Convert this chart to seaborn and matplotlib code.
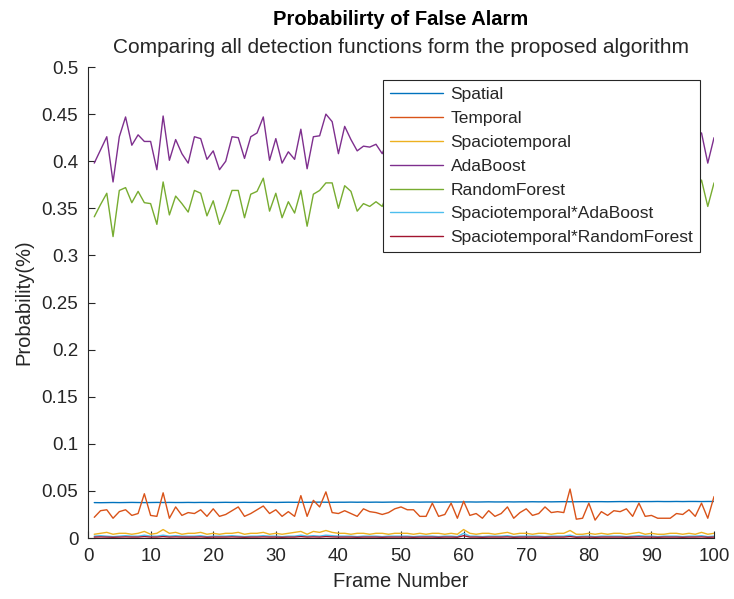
import numpy as np
import pandas as pd
import matplotlib
matplotlib.use("Agg")
import matplotlib.pyplot as plt
from matplotlib.ticker import FuncFormatter, MultipleLocator
import seaborn as sns

frames = list(range(1, 101))

spatial = [0.0376,0.0375,0.0376,0.0377,0.0376,0.0377,0.0378,0.0377,0.0376,0.0377,
           0.0378,0.0377,0.0378,0.0377,0.0377,0.0378,0.0377,0.0378,0.0378,0.0377,
           0.0378,0.0379,0.0378,0.0378,0.0379,0.0378,0.0379,0.0380,0.0379,0.0378,
           0.0379,0.0380,0.0379,0.0380,0.0379,0.0380,0.0381,0.0380,0.0379,0.0380,
           0.0380,0.0381,0.0380,0.0381,0.0380,0.0381,0.0380,0.0381,0.0382,0.0381,
           0.0381,0.0382,0.0381,0.0382,0.0382,0.0381,0.0382,0.0383,0.0382,0.0383,
           0.0383,0.0382,0.0383,0.0384,0.0383,0.0383,0.0384,0.0383,0.0384,0.0384,
           0.0385,0.0384,0.0385,0.0384,0.0385,0.0386,0.0385,0.0385,0.0386,0.0385,
           0.0386,0.0386,0.0385,0.0386,0.0387,0.0386,0.0387,0.0386,0.0387,0.0387,
           0.0388,0.0387,0.0387,0.0388,0.0387,0.0388,0.0388,0.0387,0.0388,0.0388]

temporal = [0.022,0.029,0.030,0.021,0.028,0.030,0.024,0.026,0.047,0.024,
            0.023,0.048,0.021,0.033,0.024,0.027,0.026,0.030,0.023,0.031,
            0.023,0.025,0.029,0.033,0.023,0.026,0.030,0.034,0.026,0.030,
            0.023,0.028,0.023,0.045,0.023,0.040,0.033,0.049,0.027,0.026,
            0.029,0.026,0.023,0.031,0.028,0.027,0.025,0.027,0.031,0.033,
            0.030,0.030,0.023,0.023,0.037,0.023,0.025,0.037,0.021,0.039,
            0.024,0.026,0.021,0.029,0.023,0.026,0.033,0.021,0.027,0.031,
            0.024,0.026,0.033,0.027,0.028,0.027,0.052,0.020,0.021,0.037,
            0.019,0.028,0.024,0.029,0.028,0.031,0.023,0.037,0.023,0.024,
            0.021,0.021,0.021,0.026,0.025,0.030,0.023,0.037,0.021,0.044]

spaciotemporal = [0.004,0.005,0.006,0.004,0.005,0.005,0.004,0.005,0.007,0.004,
                  0.005,0.009,0.005,0.006,0.004,0.005,0.005,0.006,0.004,0.005,
                  0.004,0.005,0.005,0.006,0.004,0.005,0.005,0.006,0.004,0.005,
                  0.004,0.005,0.006,0.007,0.004,0.007,0.006,0.008,0.006,0.005,
                  0.005,0.004,0.005,0.005,0.004,0.005,0.005,0.004,0.005,0.005,
                  0.005,0.004,0.005,0.004,0.005,0.005,0.004,0.005,0.004,0.009,
                  0.005,0.004,0.005,0.005,0.004,0.005,0.006,0.004,0.005,0.005,
                  0.004,0.005,0.005,0.004,0.005,0.005,0.008,0.004,0.004,0.005,
                  0.004,0.005,0.004,0.005,0.005,0.004,0.005,0.006,0.004,0.005,
                  0.004,0.004,0.005,0.005,0.004,0.005,0.004,0.006,0.004,0.005]

adaboost = [0.398,0.412,0.426,0.378,0.426,0.447,0.417,0.428,0.421,0.421,
            0.391,0.448,0.401,0.423,0.408,0.398,0.426,0.424,0.402,0.411,
            0.391,0.400,0.426,0.425,0.403,0.426,0.430,0.447,0.401,0.424,
            0.398,0.410,0.402,0.434,0.392,0.426,0.427,0.450,0.442,0.408,
            0.437,0.423,0.411,0.416,0.415,0.418,0.408,0.425,0.405,0.430,
            0.410,0.420,0.395,0.440,0.410,0.425,0.400,0.430,0.415,0.405,
            0.435,0.420,0.400,0.425,0.410,0.445,0.400,0.420,0.430,0.405,
            0.415,0.390,0.425,0.420,0.435,0.410,0.400,0.430,0.415,0.420,
            0.440,0.405,0.420,0.395,0.430,0.415,0.425,0.400,0.435,0.410,
            0.420,0.445,0.405,0.415,0.425,0.400,0.430,0.430,0.398,0.425]

randomforest = [0.341,0.354,0.366,0.320,0.369,0.372,0.356,0.368,0.356,0.355,
                0.333,0.378,0.343,0.363,0.355,0.346,0.369,0.366,0.342,0.358,
                0.333,0.349,0.369,0.369,0.340,0.365,0.368,0.382,0.347,0.366,
                0.340,0.357,0.345,0.369,0.331,0.365,0.369,0.377,0.377,0.350,
                0.374,0.368,0.347,0.355,0.352,0.357,0.352,0.370,0.350,0.375,
                0.355,0.365,0.340,0.380,0.355,0.370,0.345,0.375,0.360,0.350,
                0.378,0.365,0.345,0.370,0.355,0.382,0.345,0.365,0.372,0.350,
                0.360,0.335,0.370,0.365,0.378,0.355,0.345,0.375,0.360,0.365,
                0.380,0.350,0.365,0.340,0.372,0.360,0.370,0.345,0.378,0.355,
                0.365,0.380,0.350,0.360,0.370,0.345,0.365,0.380,0.352,0.377]

spatio_ada = [0.002,0.0025,0.002,0.0015,0.002,0.0025,0.002,0.002,0.003,0.002,
              0.002,0.003,0.002,0.0025,0.002,0.002,0.002,0.0025,0.0015,0.002,
              0.002,0.002,0.0025,0.002,0.0015,0.002,0.002,0.0025,0.002,0.002,
              0.0015,0.002,0.002,0.003,0.002,0.0025,0.002,0.003,0.0025,0.002,
              0.002,0.002,0.0015,0.002,0.002,0.002,0.0015,0.002,0.002,0.002,
              0.002,0.0015,0.002,0.002,0.002,0.0015,0.002,0.002,0.0015,0.005,
              0.002,0.002,0.0015,0.002,0.002,0.002,0.0025,0.0015,0.002,0.002,
              0.002,0.002,0.0015,0.002,0.002,0.002,0.003,0.0015,0.002,0.002,
              0.0015,0.002,0.002,0.002,0.002,0.0015,0.002,0.0025,0.002,0.002,
              0.0015,0.002,0.002,0.002,0.0015,0.002,0.002,0.0025,0.0015,0.002]

spatio_rf = [0.001,0.0012,0.001,0.0008,0.001,0.0012,0.001,0.001,0.0015,0.001,
             0.001,0.0015,0.001,0.0012,0.001,0.001,0.001,0.0012,0.0008,0.001,
             0.001,0.001,0.0012,0.001,0.0008,0.001,0.001,0.0012,0.001,0.001,
             0.0008,0.001,0.001,0.0015,0.001,0.0012,0.001,0.0015,0.0012,0.001,
             0.001,0.001,0.0008,0.001,0.001,0.001,0.0008,0.001,0.001,0.001,
             0.001,0.0008,0.001,0.001,0.001,0.0008,0.001,0.001,0.0008,0.0025,
             0.001,0.001,0.0008,0.001,0.001,0.001,0.0012,0.0008,0.001,0.001,
             0.001,0.001,0.0008,0.001,0.001,0.001,0.0015,0.0008,0.001,0.001,
             0.0008,0.001,0.001,0.001,0.001,0.0008,0.001,0.0012,0.001,0.001,
             0.0008,0.001,0.001,0.001,0.0008,0.001,0.001,0.0012,0.0008,0.001]

series_names = ["Spatial", "Temporal", "Spaciotemporal", "AdaBoost", "RandomForest",
                "Spaciotemporal*AdaBoost", "Spaciotemporal*RandomForest"]
series_values = [spatial, temporal, spaciotemporal, adaboost, randomforest,
                 spatio_ada, spatio_rf]
colors = ["#0072BD", "#D95319", "#EDB120", "#7E2F8E", "#77AC30", "#4DBEEE", "#A2142F"]

df = pd.concat([pd.DataFrame({"Frame": frames, "Value": v, "Series": n})
                for n, v in zip(series_names, series_values)], ignore_index=True)

sns.set_theme(style="white")
plt.rcParams["font.family"] = ["Liberation Sans", "DejaVu Sans"]

fig = plt.figure(figsize=(7.34, 5.99), dpi=100)
ax = fig.add_axes([0.1199, 0.1018, 0.8529, 0.7863])

sns.lineplot(data=df, x="Frame", y="Value", hue="Series", hue_order=series_names,
             palette=dict(zip(series_names, colors)), linewidth=1.0, ax=ax,
             legend=True)

ax.set_xlim(0, 100)
ax.set_ylim(0, 0.5)
ax.xaxis.set_major_locator(MultipleLocator(10))
ax.yaxis.set_major_locator(MultipleLocator(0.05))
ax.yaxis.set_major_formatter(FuncFormatter(lambda v, p: "%g" % round(v, 4)))
ax.set_xlabel("Frame Number", fontsize=14.5, color="#262626", labelpad=5)
ax.set_ylabel("Probability(%)", fontsize=14.5, color="#262626", labelpad=6)
ax.tick_params(direction="in", length=5, width=0.8, colors="#262626",
               labelsize=13.5, bottom=True, left=True, pad=7)
for s in ["top", "right"]:
    ax.spines[s].set_visible(False)
for s in ["left", "bottom"]:
    ax.spines[s].set_color("#262626")
    ax.spines[s].set_linewidth(0.8)

leg = ax.legend(loc="upper left", bbox_to_anchor=(0.471, 0.972), fontsize=12.5,
                frameon=True, fancybox=False, framealpha=1, edgecolor="#262626",
                handlelength=3.05, handletextpad=0.45, labelspacing=0.5,
                borderpad=0.4, borderaxespad=0)
leg.get_frame().set_linewidth(0.8)
for t in leg.get_texts():
    t.set_color("#262626")

cx = 0.1199 + 0.8529 / 2
fig.text(cx, 0.967, "Probabilirty of False Alarm", ha="center", va="center",
         fontsize=14.5, fontweight="bold", color="black")
fig.text(cx, 0.9215, "Comparing all detection functions form the proposed algorithm",
         ha="center", va="center", fontsize=15, color="#262626")

fig.savefig("out.png", dpi=100)
